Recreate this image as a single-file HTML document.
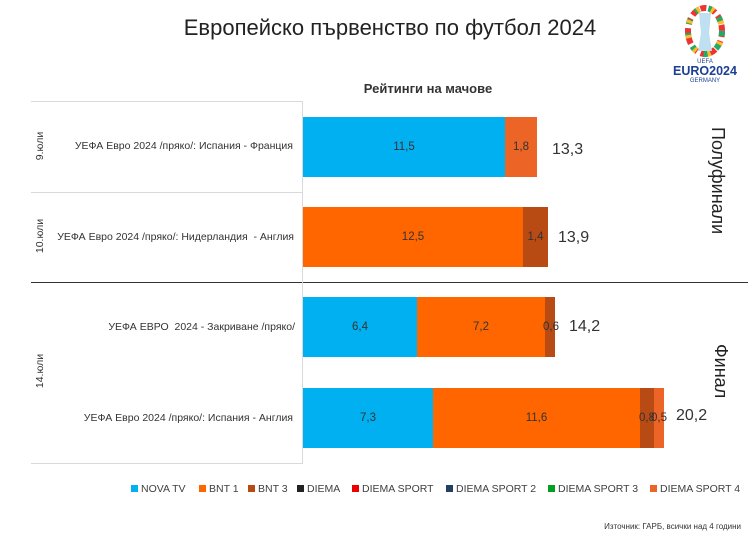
<!DOCTYPE html>
<html><head><meta charset="utf-8"><style>
body{margin:0;width:748px;height:539px;background:#fff;position:relative;overflow:hidden;font-family:"Liberation Sans",sans-serif;color:#333}
.a{position:absolute}
.bar{position:absolute;height:60px}
.v{position:absolute;font-size:11.5px;color:#333;line-height:60px;text-align:center}
.t{position:absolute;font-size:16px;color:#333}
.lbl{position:absolute;font-size:10.5px;color:#333;text-align:right;width:270px}
.rot{position:absolute;transform:rotate(-90deg);transform-origin:center;white-space:nowrap}
.lg{position:absolute;top:483px;font-size:10.5px;color:#404040;white-space:nowrap}
.lg i{display:inline-block;width:7px;height:7px;margin-right:3px}
</style></head><body>
<div class="a" style="left:0;width:780px;top:15px;text-align:center;font-size:22px;color:#222">Европейско първенство по футбол 2024</div>
<div class="a" style="left:303px;width:250px;top:81px;text-align:center;font-size:13px;font-weight:bold;color:#333">Рейтинги на мачове</div>
<svg class="a" style="left:670px;top:3px" width="70" height="82" viewBox="0 0 70 82">
<ellipse cx="35" cy="28" rx="17" ry="23" fill="none" stroke="#e33" stroke-width="6" stroke-dasharray="6 4"/>
<ellipse cx="35" cy="28" rx="17" ry="23" fill="none" stroke="#2a6" stroke-width="6" stroke-dasharray="5 9" />
<ellipse cx="35" cy="28" rx="17" ry="23" fill="none" stroke="#fb2" stroke-width="6" stroke-dasharray="3 12" stroke-dashoffset="4"/>
<path d="M29 10h12l-2 20 3 18h-14l3-18z" fill="#bfe0f0"/>
<text x="35" y="60" font-size="6" fill="#1c3f94" text-anchor="middle" font-family="Liberation Sans">UEFA</text>
<text x="35" y="72" font-size="12.5" font-weight="bold" fill="#1c3f94" text-anchor="middle" font-family="Liberation Sans">EURO2024</text>
<text x="35" y="79" font-size="6" fill="#1c3f94" text-anchor="middle" font-family="Liberation Sans">GERMANY</text>
</svg>
<div class="a" style="left:31px;top:101px;width:271px;height:1px;background:#d9d9d9"></div>
<div class="a" style="left:31px;top:192px;width:271px;height:1px;background:#d9d9d9"></div>
<div class="a" style="left:31px;top:282px;width:717px;height:1px;background:#333"></div>
<div class="a" style="left:31px;top:463px;width:271px;height:1px;background:#d9d9d9"></div>
<div class="a" style="left:302px;top:101px;width:1px;height:363px;background:#d9d9d9"></div>
<div class="rot" style="left:20px;top:140px;width:40px;text-align:center;font-size:10.5px">9.юли</div>
<div class="rot" style="left:18px;top:230px;width:44px;text-align:center;font-size:10.5px">10.юли</div>
<div class="rot" style="left:18px;top:365px;width:44px;text-align:center;font-size:10.5px">14.юли</div>
<div class="lbl" style="left:23px;top:140px">УЕФА Евро 2024 /пряко/: Испания - Франция</div>
<div class="lbl" style="left:24px;top:231px">УЕФА Евро 2024 /пряко/: Нидерландия &nbsp;- Англия</div>
<div class="lbl" style="left:25px;top:321px">УЕФА ЕВРО &nbsp;2024 - Закриване /пряко/</div>
<div class="lbl" style="left:23px;top:412px">УЕФА Евро 2024 /пряко/: Испания - Англия</div>
<div class="bar" style="left:303px;top:117px;width:202px;background:#00b0f0"></div><div class="v" style="left:303px;top:117px;width:202px">11,5</div>
<div class="bar" style="left:505px;top:117px;width:32px;background:#ec6426"></div><div class="v" style="left:505px;top:117px;width:32px">1,8</div>
<div class="t" style="left:552px;top:141px">13,3</div>
<div class="bar" style="left:303px;top:207px;width:220px;background:#ff6600"></div><div class="v" style="left:303px;top:207px;width:220px">12,5</div>
<div class="bar" style="left:523px;top:207px;width:25px;background:#b84a14"></div><div class="v" style="left:523px;top:207px;width:25px">1,4</div>
<div class="t" style="left:558px;top:229px">13,9</div>
<div class="bar" style="left:303px;top:297px;width:114px;background:#00b0f0"></div><div class="v" style="left:303px;top:297px;width:114px">6,4</div>
<div class="bar" style="left:417px;top:297px;width:128px;background:#ff6600"></div><div class="v" style="left:417px;top:297px;width:128px">7,2</div>
<div class="bar" style="left:545px;top:297px;width:10px;background:#b84a14"></div><div class="v" style="left:543px;top:297px;width:14px">0,6</div>
<div class="t" style="left:569px;top:318px">14,2</div>
<div class="bar" style="left:303px;top:388px;width:130px;background:#00b0f0"></div><div class="v" style="left:303px;top:388px;width:130px">7,3</div>
<div class="bar" style="left:433px;top:388px;width:207px;background:#ff6600"></div><div class="v" style="left:433px;top:388px;width:207px">11,6</div>
<div class="bar" style="left:640px;top:388px;width:14px;background:#b84a14"></div><div class="v" style="left:638px;top:388px;width:18px">0,8</div>
<div class="bar" style="left:654px;top:388px;width:10px;background:#ec6426"></div><div class="v" style="left:651px;top:388px;width:16px">0,5</div>
<div class="t" style="left:676px;top:407px">20,2</div>
<div class="a" style="left:704px;top:127px;width:24px;height:130px;font-size:18px;color:#222;writing-mode:vertical-rl;white-space:nowrap">Полуфинали</div>
<div class="a" style="left:707px;top:344px;width:24px;height:60px;font-size:18px;color:#222;writing-mode:vertical-rl;white-space:nowrap">Финал</div>
<div class="lg" style="left:131px"><i style="background:#00b0f0"></i>NOVA TV</div>
<div class="lg" style="left:199px"><i style="background:#ff6600"></i>BNT 1</div>
<div class="lg" style="left:248px"><i style="background:#b84a14"></i>BNT 3</div>
<div class="lg" style="left:297px"><i style="background:#222"></i>DIEMA</div>
<div class="lg" style="left:352px"><i style="background:#e00"></i>DIEMA SPORT</div>
<div class="lg" style="left:446px"><i style="background:#243f60"></i>DIEMA SPORT 2</div>
<div class="lg" style="left:548px"><i style="background:#00a020"></i>DIEMA SPORT 3</div>
<div class="lg" style="left:650px"><i style="background:#ec6426"></i>DIEMA SPORT 4</div>
<div class="a" style="left:520px;width:221px;top:522px;text-align:right;font-size:8px;color:#333">Източник: ГАРБ, всички над 4 години</div>
</body></html>
